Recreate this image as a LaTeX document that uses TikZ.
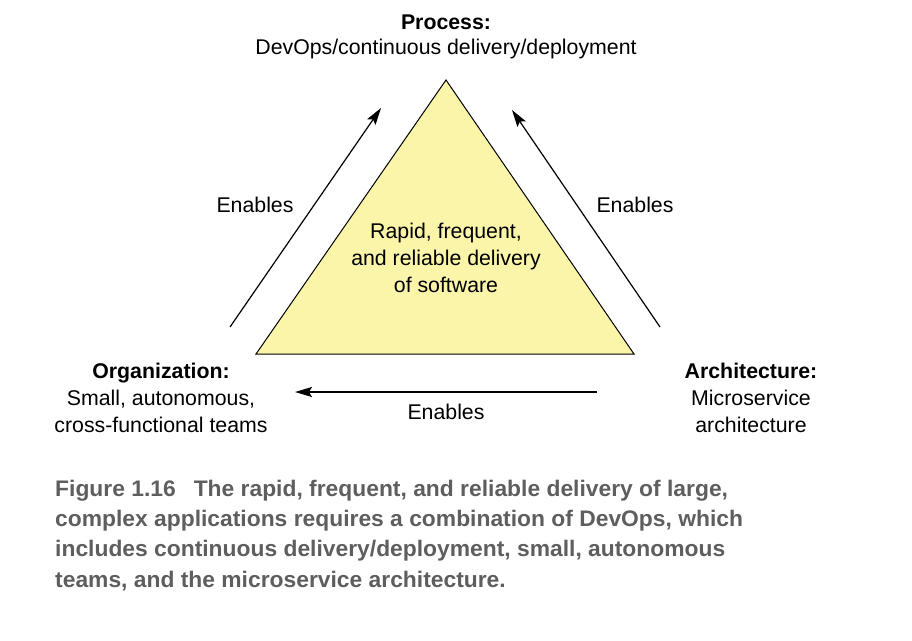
\documentclass[tikz,border=0pt]{standalone}
\usepackage{fontspec}
\setmainfont{Liberation Sans}
\newfontfamily\capfont{Liberation Sans}[FakeStretch=1.015]
\usetikzlibrary{arrows.meta}
\definecolor{triyellow}{HTML}{FBF5A9}
\definecolor{capgray}{HTML}{5E5E5E}
\begin{document}
\begin{tikzpicture}[x=1pt,y=-1pt,
  lbl/.style={font=\fontsize{21.3}{27}\selectfont, align=center, inner sep=0pt, anchor=center},
  ttl/.style={lbl, anchor=base},
  enab/.style={draw=black, line width=1.2pt, -{Stealth[length=17pt,width=10pt,inset=3pt]}},
  capline/.style={font=\capfont\bfseries\fontsize{22.5}{30}\selectfont, text=capgray, anchor=base west, inner sep=0pt}]
\useasboundingbox (0,0) rectangle (912,640);
\coordinate (A) at (446,80);
\coordinate (L) at (256,354);
\coordinate (R) at (634,354);
\fill[triyellow] (A) -- (L) -- (R) -- cycle;
\draw[line width=1pt, line join=miter] (A) -- (L) -- (R) -- cycle;
\node[ttl] (ptitle) at (446,29) {\textbf{Process:}};
\node[lbl] (psub) at (446,49) {DevOps/continuous delivery/deployment};
\node[lbl] (center) at (446,258) {Rapid, frequent,\\and reliable delivery\\of software};
\node[ttl] (otitle) at (161,378) {\textbf{Organization:}};
\node[lbl] (osub) at (161,411.5) {Small, autonomous,\\cross-functional teams};
\node[ttl] (atitle) at (751,378) {\textbf{Architecture:}};
\node[lbl] (asub) at (751,411.5) {Microservice\\architecture};
\node[lbl] (e1) at (255,205) {Enables};
\node[lbl] (e2) at (635,205) {Enables};
\node[lbl] (e3) at (446,412) {Enables};
\coordinate (l0) at (230,327);
\coordinate (l1) at (381,108);
\coordinate (r0) at (660,327);
\coordinate (r1) at (512,110);
\coordinate (b0) at (597,392);
\coordinate (b1) at (295,392);
\draw[enab] (l0) -- (l1);
\draw[enab] (r0) -- (r1);
\draw[enab, line width=1.8pt] (b0) -- (b1);
\node[capline] (c1) at (55,496) {Figure 1.16\hspace{18pt}The rapid, frequent, and reliable delivery of large,};
\node[capline] (c2) at (55,526) {complex applications requires a combination of DevOps, which};
\node[capline] (c3) at (55,556) {includes continuous delivery/deployment, small, autonomous};
\node[capline] (c4) at (55,587) {teams, and the microservice architecture.};
\end{tikzpicture}
\end{document}
